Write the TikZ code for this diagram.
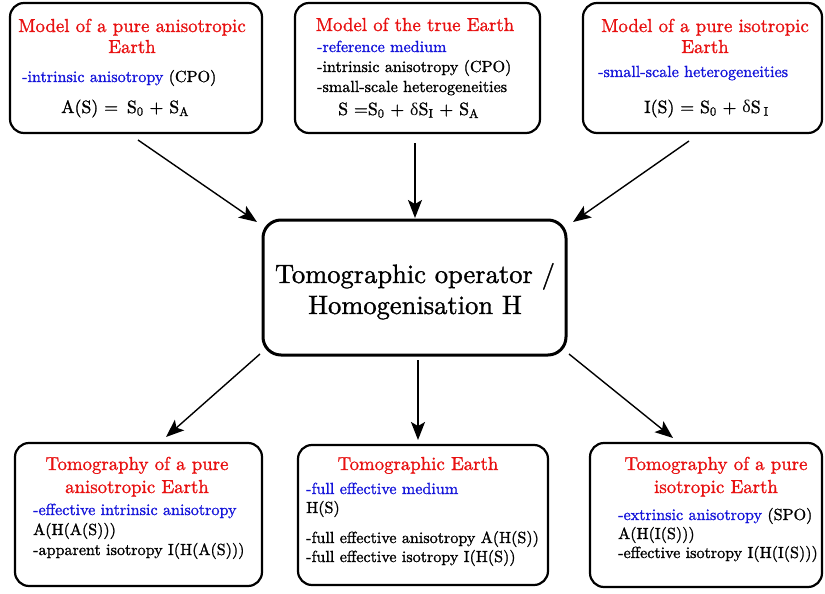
\documentclass[tikz,border=0pt]{standalone}
\usepackage{fontspec}
\setmainfont{lmroman10-regular.otf}[FakeBold=1.2]
\newfontfamily\gk{Liberation Serif}
\usetikzlibrary{arrows.meta}
\definecolor{hred}{RGB}{232,16,16}
\definecolor{hblue}{RGB}{20,20,218}
\newcommand{\sbs}[1]{\textsubscript{#1}}
\newcommand{\dlt}{{\gk δ}}
\begin{document}
\begin{tikzpicture}[x=1pt,y=-1pt,
  box/.style={draw, line width=2.2pt, rounded corners=14pt, inner sep=0pt},
  head/.style={text=hred, font=\fontsize{18.8}{22}\selectfont, anchor=base, inner sep=0pt},
  body/.style={font=\fontsize{16.1}{20}\selectfont, anchor=base west, inner sep=0pt},
  frm/.style={font=\fontsize{17.8}{22}\selectfont, anchor=base west, inner sep=0pt},
  blu/.style={text=hblue},
  big/.style={font=\fontsize{26.5}{32}\selectfont, anchor=base, inner sep=0pt},
  arr/.style={-{Stealth[length=18pt,width=14pt,inset=4pt]}, line width=1.4pt}]
\useasboundingbox (0,0) rectangle (825,594);
% boxes
\node[box, minimum width=252pt, minimum height=130pt] (TL) at (136,68) {};
\node[box, minimum width=245pt, minimum height=130pt] (TM) at (417.5,68) {};
\node[box, minimum width=239pt, minimum height=130pt] (TR) at (702.5,68) {};
\node[box, line width=3pt, rounded corners=18pt, minimum width=303pt, minimum height=135pt] (C) at (414.5,287.5) {};
\node[box, minimum width=247pt, minimum height=143pt] (BL) at (138.5,514.5) {};
\node[box, minimum width=250pt, minimum height=140pt] (BM) at (423,515) {};
\node[box, minimum width=232pt, minimum height=144pt] (BR) at (706,515) {};
% top-left text
\node[head] (tl1) at (132,32) {Model of a pure anisotropic};
\node[head] (tl2) at (132,53) {Earth};
\node[body] (tl3) at (22,82) {\textcolor{hblue}{-intrinsic anisotropy} (CPO)};
\node[frm] (tl4) at (61,113) {A(S) =\, S\sbs{0} + S\sbs{A}};
% top-middle text
\node[head] (tm1) at (415,31) {Model of the true Earth};
\node[body, blu] (tm2) at (317,52) {-reference medium};
\node[body] (tm3) at (317,72) {-intrinsic anisotropy (CPO)};
\node[body] (tm4) at (317,92) {-small-scale heterogeneities};
\node[frm] (tm5) at (338,115) {S =S\sbs{0} + \dlt S\sbs{I} + S\sbs{A}};
% top-right text
\node[head] (tr1) at (705,32) {Model of a pure isotropic};
\node[head] (tr2) at (705,53) {Earth};
\node[body, blu] (tr3) at (598,77) {-small-scale heterogeneities};
\node[frm] (tr4) at (644,113) {I(S) = S\sbs{0} + \dlt S\,\sbs{I}};
% center
\node[big] (c1) at (415,283) {Tomographic operator /};
\node[big] (c2) at (415,314) {Homogenisation H};
% bottom-left
\node[head] (bl1) at (137,470) {Tomography of a pure};
\node[head] (bl2) at (137,493) {anisotropic Earth};
\node[body, blu] (bl3) at (33,515) {-effective intrinsic anisotropy};
\node[body] (bl4) at (33,535) {A(H(A(S)))};
\node[body] (bl5) at (33,555) {-apparent isotropy I(H(A(S)))};
% bottom-middle
\node[head] (bm1) at (418,470) {Tomographic Earth};
\node[body, blu] (bm2) at (306,494) {-full effective medium};
\node[body] (bm3) at (306,513) {H(S)};
\node[body] (bm4) at (306,543) {-full effective anisotropy A(H(S))};
\node[body] (bm5) at (306,562) {-full effective isotropy I(H(S))};
% bottom-right
\node[head] (br1) at (716,470) {Tomography of a pure};
\node[head] (br2) at (716,493) {isotropic Earth};
\node[body] (br3) at (618,520) {\textcolor{hblue}{-extrinsic anisotropy} (SPO)};
\node[body] (br4) at (618,539) {A(H(I(S)))};
\node[body] (br5) at (618,558) {-effective isotropy I(H(I(S)))};
% arrow end coordinates
\coordinate (a1s) at (138,140); \coordinate (a1e) at (257,222);
\coordinate (a2s) at (415,143); \coordinate (a2e) at (415,218);
\coordinate (a3s) at (689,141); \coordinate (a3e) at (573,222);
\coordinate (b1s) at (260,354); \coordinate (b1e) at (166,437);
\coordinate (b2s) at (418,360); \coordinate (b2e) at (418,440);
\coordinate (b3s) at (569,354); \coordinate (b3e) at (673,438);
\draw[arr] (a1s) -- (a1e);
\draw[arr] (a2s) -- (a2e);
\draw[arr] (a3s) -- (a3e);
\draw[arr] (b1s) -- (b1e);
\draw[arr] (b2s) -- (b2e);
\draw[arr] (b3s) -- (b3e);
\end{tikzpicture}
\end{document}
